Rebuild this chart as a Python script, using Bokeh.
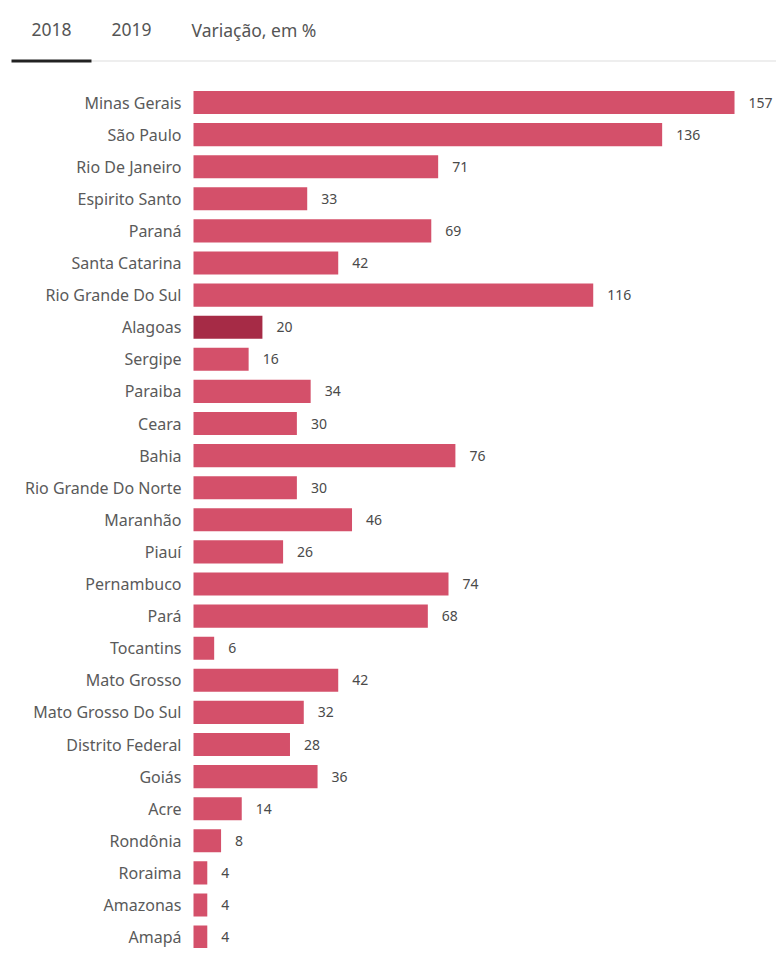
from bokeh.plotting import figure
from bokeh.models import Range1d, Label, BoxAnnotation, ColumnDataSource
from bokeh.core.properties import value
from bokeh.embed import file_html
from bokeh.resources import INLINE

states = ["Minas Gerais", "São Paulo", "Rio De Janeiro", "Espirito Santo", "Paraná",
          "Santa Catarina", "Rio Grande Do Sul", "Alagoas", "Sergipe", "Paraiba", "Ceara",
          "Bahia", "Rio Grande Do Norte", "Maranhão", "Piauí", "Pernambuco", "Pará",
          "Tocantins", "Mato Grosso", "Mato Grosso Do Sul", "Distrito Federal", "Goiás",
          "Acre", "Rondônia", "Roraima", "Amazonas", "Amapá"]
values = [157, 136, 71, 33, 69, 42, 116, 20, 16, 34, 30, 76, 30, 46, 26, 74, 68, 6,
          42, 32, 28, 36, 14, 8, 4, 4, 4]
highlight = "Alagoas"
tabs = ["2018", "2019", "Variação, em %"]

BAR = "#d4506a"
HL = "#a62b46"
FONT = "Noto Sans"

W, H = 776, 948
x0_px = 193.0          # screen x of value 0 inside figure
px_per_unit = 3.446
row_px = 32.1
first_row_px = 102.0   # from figure top

xs = -x0_px / px_per_unit
xe = (W - x0_px) / px_per_unit
n = len(states)
ys = -first_row_px / row_px
ye = (n - 1) + (H - (first_row_px + (n - 1) * row_px)) / row_px

idx = list(range(n))
src = ColumnDataSource(dict(
    y=idx, v=values, name=states, lab=[str(v) for v in values],
    color=[HL if s == highlight else BAR for s in states],
))

p = figure(width=W, height=H, output_backend="svg", toolbar_location=None,
           x_range=Range1d(xs, xe), y_range=Range1d(ye, ys),
           min_border=0, min_border_left=0, min_border_right=0,
           min_border_top=0, min_border_bottom=0)
p.axis.visible = False
p.grid.visible = False
p.outline_line_color = None
p.background_fill_color = "white"
p.border_fill_color = "white"

p.hbar(y="y", left=0, right="v", height=0.72, fill_color="color",
       line_color=None, source=src)
p.text(x=0, y="y", text="name", source=src, x_offset=-12,
       text_align="right", text_baseline="middle", text_font=value(FONT),
       text_font_size="16px", text_color="#5a5a5a")
p.text(x="v", y="y", text="lab", source=src, x_offset=14,
       text_align="left", text_baseline="middle", text_font=value(FONT),
       text_font_size="14px", text_color="#4a4a4a")

# tabs header (screen units, y from bottom)
tab_x = [31, 111, 191]
for t, tx in zip(tabs, tab_x):
    p.add_layout(Label(x=tx, y=H - 29, x_units="screen", y_units="screen", text=t,
                       text_font=FONT, text_font_size="17.5px", text_color="#555555",
                       text_baseline="middle"))
p.add_layout(BoxAnnotation(left=91, right=W, bottom=H - 61, top=H - 60,
                           left_units="screen", right_units="screen",
                           bottom_units="screen", top_units="screen",
                           fill_color="#dddddd", fill_alpha=1, line_color=None))
p.add_layout(BoxAnnotation(left=11, right=91, bottom=H - 62, top=H - 59,
                           left_units="screen", right_units="screen",
                           bottom_units="screen", top_units="screen",
                           fill_color="#222222", fill_alpha=1, line_color=None))

open("out.html", "w").write(file_html(p, INLINE))
